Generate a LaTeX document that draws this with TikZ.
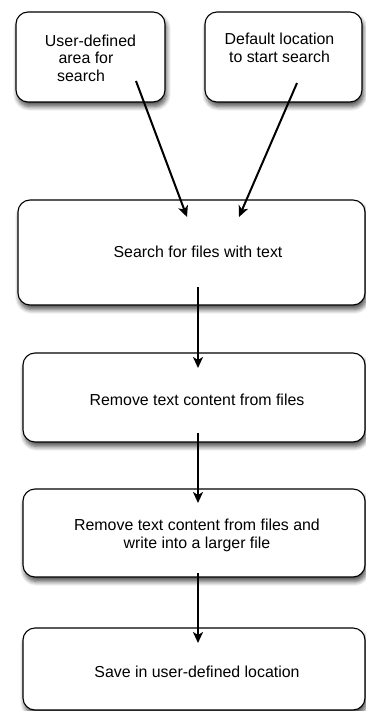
\documentclass[tikz,border=0pt]{standalone}
\usepackage{fontspec}
\setmainfont{Liberation Sans}
\usetikzlibrary{arrows.meta,shadows.blur}
\begin{document}
\begin{tikzpicture}[x=1pt,y=-1pt,
  box/.style={draw=black, line width=1.1pt, fill=white, rounded corners=12pt,
    inner sep=0pt, blur shadow={shadow xshift=1.5pt, shadow yshift=-4.5pt, shadow blur radius=4.5pt, shadow blur steps=8, shadow opacity=70}},
  lbl/.style={font=\fontsize{15.9}{17.5}\selectfont, align=center, inner sep=0pt},
  arr/.style={line width=2pt, -{Stealth[length=11pt,width=10pt,inset=3pt]}}]
\useasboundingbox (0,0) rectangle (366,711);
\node[box, minimum width=149pt, minimum height=90pt] (A) at (90.5,57) {};
\node[box, minimum width=157pt, minimum height=90pt] (B) at (283.5,57) {};
\node[box, minimum width=347pt, minimum height=105pt] (S) at (191.5,252.5) {};
\node[box, minimum width=342pt, minimum height=89pt] (R) at (194,397.5) {};
\node[box, minimum width=342pt, minimum height=88pt] (W) at (194,533) {};
\node[box, minimum width=342pt, minimum height=82pt] (V) at (194,669) {};
\node[lbl] (tA) at (90.5,58) {User-defined\\area for\rule{9pt}{0pt}\\search\rule{19pt}{0pt}};
\node[lbl] (tB) at (279.5,48) {Default location\\to start search};
\node[lbl] (tS) at (198,252) {Search for files with text};
\node[lbl] (tR) at (197,400) {Remove text content from files};
\node[lbl] (tW) at (197,535.5) {Remove text content from files and\\write into a larger file};
\node[lbl] (tV) at (197,672) {Save in user-defined location};
\coordinate (a1) at (136,81);
\coordinate (a2) at (187,217);
\coordinate (b1) at (297,83);
\coordinate (b2) at (239,217);
\coordinate (s1) at (198,287);
\coordinate (s2) at (198,368);
\coordinate (r1) at (198,433);
\coordinate (r2) at (198,503);
\coordinate (w1) at (198,573);
\coordinate (w2) at (198,643);
\draw[arr] (a1) -- (a2);
\draw[arr] (b1) -- (b2);
\draw[arr] (s1) -- (s2);
\draw[arr] (r1) -- (r2);
\draw[arr] (w1) -- (w2);
\end{tikzpicture}
\end{document}
